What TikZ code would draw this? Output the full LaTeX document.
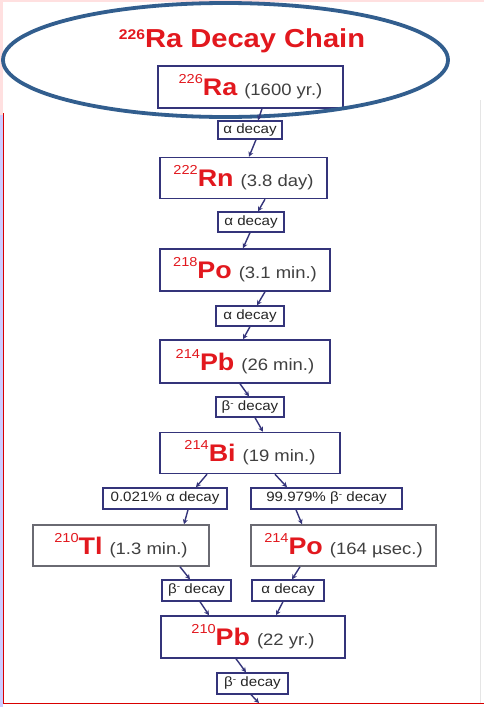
\documentclass[tikz,border=0pt]{standalone}
\usepackage{fontspec}
\setmainfont{Liberation Sans}[FakeStretch=1.12]
\usetikzlibrary{arrows.meta,calc}
\definecolor{navy}{HTML}{34347A}
\definecolor{elred}{HTML}{E2181E}
\definecolor{ellblue}{HTML}{325E8E}
\definecolor{hlgrey}{HTML}{404040}
\definecolor{boxgrey}{HTML}{6A6A72}
\newcommand\isotope[3]{\raisebox{12pt}{\fontsize{13}{13}\selectfont\color{elred}#1}{\fontsize{24}{24}\selectfont\bfseries\color{elred}#2}\hspace{7pt}{\fontsize{16.5}{17}\selectfont\color{hlgrey}#3}}
\newcommand\betam{β\raisebox{4pt}{\fontsize{9}{9}\selectfont -}}
\begin{document}
\begin{tikzpicture}[x=1pt,y=-1pt,
  nucbox/.style={draw=navy,line width=1.5pt,fill=white,inner sep=0pt},
  decaybox/.style={draw=navy,line width=1.3pt,fill=white,inner sep=0pt,minimum height=20pt,
    font=\fontsize{13.5}{14}\selectfont,text=black!85},
  link/.style={draw=navy,line width=1.4pt,-{Stealth[length=5pt,width=5pt]}}]
\fill[white] (0,0) rectangle (484,707);
\useasboundingbox (0,0) rectangle (484,707);
% frame
\fill[red!12] (0,0) rectangle (484,2);
\fill[red!12] (0,0) rectangle (3,115);
\fill[blue!20] (0,115) rectangle (2.5,707);
\draw[red!85!black,line width=1pt] (3.5,113) -- (3.5,703.5);
\draw[red!85!black,line width=1.2pt] (3,703.5) -- (484,703.5);
\draw[gray!20,line width=1pt] (480,100) -- (480,703);
% title
\node[text=elred,font=\fontsize{26}{26}\selectfont\bfseries] (title) at (242,41)
  {\raisebox{8pt}{\fontsize{14}{14}\selectfont 226}Ra Decay Chain};
% nuclide boxes
\node[nucbox,minimum width=185pt,minimum height=42pt] (ra) at (250.5,87) {\isotope{226}{Ra}{(1600 yr.)}};
\node[nucbox,minimum width=167pt,minimum height=41pt] (rn) at (243.5,178) {\isotope{222}{Rn}{(3.8 day)}};
\node[nucbox,minimum width=170pt,minimum height=42pt] (po) at (245,270) {\isotope{218}{Po}{(3.1 min.)}};
\node[nucbox,minimum width=170pt,minimum height=43pt] (pb) at (245,361.5) {\isotope{214}{Pb}{(26 min.)}};
\node[nucbox,minimum width=180pt,minimum height=41pt] (bi) at (250,453) {\isotope{214}{Bi}{(19 min.)}};
\node[nucbox,draw=boxgrey,minimum width=176pt,minimum height=41pt] (tl) at (121,545.5) {\isotope{210}{Tl}{(1.3 min.)}};
\node[nucbox,draw=boxgrey,minimum width=185pt,minimum height=41pt] (pofour) at (343.5,545.5) {\isotope{214}{Po}{(164 µsec.)}};
\node[nucbox,minimum width=184pt,minimum height=42pt] (pbtwo) at (253,637) {\isotope{210}{Pb}{(22 yr.)}};
% ellipse over the first box
\draw[ellblue,line width=3.8pt] (225.5,60) ellipse [x radius=222.5,y radius=57];
% decay labels
\node[decaybox,minimum width=64pt,minimum height=18pt] (la) at (250,130) {α decay};
\node[decaybox,minimum width=66pt] (lb) at (251,222) {α decay};
\node[decaybox,minimum width=68pt] (lc) at (250,316) {α decay};
\node[decaybox,minimum width=68pt] (ld) at (250,407) {\betam\ decay};
\node[decaybox,minimum width=124pt,minimum height=21pt,line width=1.6pt] (le) at (165,498.5) {0.021\% α decay};
\node[decaybox,minimum width=151pt,minimum height=21pt,line width=1.6pt] (lf) at (326.5,498.5) {99.979\% \betam\ decay};
\node[decaybox,minimum width=69pt,minimum height=21pt] (lg) at (196.5,590.5) {\betam\ decay};
\node[decaybox,minimum width=72pt,minimum height=21pt] (lh) at (288,590.5) {α decay};
\node[decaybox,minimum width=71pt,minimum height=21pt] (li) at (252.5,683.5) {\betam\ decay};
\coordinate (chainend) at (259,703);
% connectors
\draw[link] ($(ra.south)+(11.5,0)$) -- ($(la.north)+(8,0)$);
\draw[link] ($(la.south)+(6,0)$) -- ($(rn.north)+(5.5,0)$);
\draw[link] ($(rn.south)+(21.5,0)$) -- ($(lb.north)+(7,0)$);
\draw[link] ($(lb.south)+(-1,0)$) -- ($(po.north)+(-2,0)$);
\draw[link] ($(po.south)+(20,0)$) -- ($(lc.north)+(7,0)$);
\draw[link] ($(lc.south)+(0,0)$) -- ($(pb.north)+(-2,0)$);
\draw[link] ($(pb.south)+(-5,0)$) -- ($(ld.north)+(-1,0)$);
\draw[link] ($(ld.south)+(5,0)$) -- ($(bi.north)+(13,0)$);
\draw[link] ($(bi.south)+(-43,0)$) -- ($(le.north)+(31,0)$);
\draw[link] ($(le.south)+(23,0)$) -- ($(tl.north)+(63,0)$);
\draw[link] ($(bi.south)+(25,0)$) -- ($(lf.north)+(-39.5,0)$);
\draw[link] ($(lf.south)+(-30.5,0)$) -- ($(pofour.north)+(-41.5,0)$);
\draw[link] ($(tl.south)+(59,0)$) -- ($(lg.north)+(-6.5,0)$);
\draw[link] ($(lg.south)+(3.5,0)$) -- ($(pbtwo.north)+(-44,0)$);
\draw[link] ($(pofour.south)+(-43.5,0)$) -- ($(lh.north)+(4,0)$);
\draw[link] ($(lh.south)+(-5,0)$) -- ($(pbtwo.north)+(23,0)$);
\draw[link] ($(pbtwo.south)+(-17,0)$) -- ($(li.north)+(-6.5,0)$);
\draw[link] ($(li.south)+(-1.5,0)$) -- (chainend);
\end{tikzpicture}
\end{document}
